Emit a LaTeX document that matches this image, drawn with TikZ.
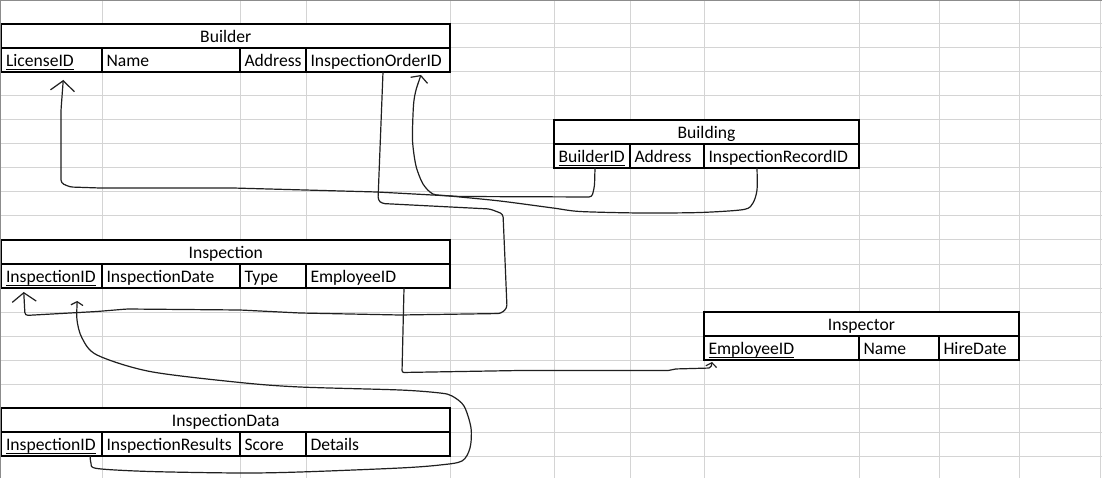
\documentclass[tikz,border=0pt]{standalone}
\usepackage{fontspec}
\setmainfont{Carlito}
\usetikzlibrary{arrows.meta,calc}

\tikzset{
  gridline/.style={draw=black!17, line width=1pt},
  frameline/.style={draw=black!45, line width=1.3pt},
  cellbox/.style={draw=black, fill=white, line width=1.1pt, minimum height=24pt, inner sep=0pt, outer sep=0pt},
  celltext/.style={inner sep=0pt, outer sep=0pt, text=black, font=\fontsize{17.6pt}{21pt}\selectfont},
  keyline/.style={draw=black, line width=0.9pt},
  conn/.style={draw=black!88, line width=1.2pt, line cap=round, line join=round},
}

\newcommand{\erfield}[5]{%
  \pgfmathsetmacro{\ertblw}{#3-#2}%
  \node[cellbox, minimum width=\ertblw pt, anchor=north west] (#1) at (#2,#4) {};
  \node[celltext, anchor=base west] (#1-t) at ($(#1.south west)+(4.5,-5.2)$) {#5};
}
\newcommand{\erkey}[5]{%
  \erfield{#1}{#2}{#3}{#4}{#5}%
  \draw[keyline] ($(#1-t.base west)+(0,3)$) -- ($(#1-t.base east)+(0,3)$);
}
\newcommand{\ertitle}[5]{%
  \pgfmathsetmacro{\ertblw}{#3-#2}%
  \node[cellbox, minimum width=\ertblw pt, anchor=north west] (#1) at (#2,#4) {};
  \node[celltext, anchor=base] (#1-t) at ($(#1.south)+(0,-5.8)$) {#5};
}

\begin{document}
\begin{tikzpicture}[x=1pt,y=-1pt]
\useasboundingbox (0,0) rectangle (1102,478);
\fill[white] (0,0) rectangle (1102,478);

% spreadsheet grid
\foreach \gx in {102,240,306,450,554,630,704,859,939,1019,1100}
  \draw[gridline] (\gx,0) -- (\gx,478);
\foreach \gy in {24,48,...,456}
  \draw[gridline] (0,\gy) -- (1102,\gy);
\draw[frameline] (0.65,0) -- (0.65,478);
\draw[frameline] (0,0.65) -- (1102,0.65);

% Builder
\ertitle{bT}{1.5}{450}{24}{Builder}
\erkey{bLicense}{1.5}{102}{48}{LicenseID}
\erfield{bName}{102}{240}{48}{Name}
\erfield{bAddr}{240}{306}{48}{Address}
\erfield{bInsOrd}{306}{450}{48}{InspectionOrderID}

% Building
\ertitle{gT}{554}{859}{120}{Building}
\erkey{gBuilderID}{554}{630}{144}{BuilderID}
\erfield{gAddr}{630}{704}{144}{Address}
\erfield{gInsRec}{704}{859}{144}{InspectionRecordID}

% Inspection
\ertitle{iT}{1.5}{450}{240}{Inspection}
\erkey{iInsID}{1.5}{102}{264}{InspectionID}
\erfield{iDate}{102}{240}{264}{InspectionDate}
\erfield{iType}{240}{306}{264}{Type}
\erfield{iEmp}{306}{450}{264}{EmployeeID}

% Inspector
\ertitle{pT}{704}{1019}{312}{Inspector}
\erkey{pEmp}{704}{859}{336}{EmployeeID}
\erfield{pName}{859}{939}{336}{Name}
\erfield{pHire}{939}{1019}{336}{HireDate}

% InspectionData
\ertitle{dT}{1.5}{450}{408}{InspectionData}
\erkey{dInsID}{1.5}{102}{432}{InspectionID}
\erfield{dRes}{102}{240}{432}{InspectionResults}
\erfield{dScore}{240}{306}{432}{Score}
\erfield{dDet}{306}{450}{432}{Details}

% connector end points
\coordinate (s1) at ($(gBuilderID.south)+(3,0)$);
\coordinate (t1) at ($(bLicense.south)+(11.5,8)$);
\coordinate (s2) at ($(gInsRec.south)+(-24.5,0)$);
\coordinate (t2) at ($(bInsOrd.south)+(43,3)$);
\coordinate (s3) at ($(bInsOrd.south)+(5,0)$);
\coordinate (t3) at ($(iInsID.south)+(-28,4)$);
\coordinate (s4) at ($(iEmp.south)+(26,0)$);
\coordinate (t4) at ($(pEmp.south)+(-69.5,2)$);
\coordinate (s5) at ($(dInsID.south)+(38.5,0)$);
\coordinate (t5) at ($(iInsID.south)+(25.5,13)$);

% BuilderID -> LicenseID
\draw[conn, rounded corners=3, -{Straight Barb[length=10pt,width=24pt]}]
  (s1) -- (594.5,186) -- (592,197) -- (460,196.5) -- (377,192) -- (233,188)
  -- (100,188) -- (70,187) -- (61,183) -- (61,110) -- (t1);

% InspectionRecordID -> InspectionOrderID
\draw[conn, -{Straight Barb[length=5pt,width=18pt]}]
  plot[smooth, tension=0.45] coordinates {(s2) (757,190) (753,203) (744,209.5)
  (700,212.5) (640,213) (580,211.5) (553,208) (500,201) (450,196) (433,194)
  (423,184) (416,166) (412.5,140) (413.5,105) (416,90) (t2)};

% InspectionOrderID -> Inspection.InspectionID
\draw[conn, rounded corners=3, -{Straight Barb[length=9pt,width=24pt]}]
  (s3) -- (378,200) -- (382,203.5) -- (490,209) -- (503,214) -- (505,260)
  -- (507,308) -- (501,313.5) -- (400,315) -- (300,313) -- (240,310)
  -- (127,309) -- (97,311.5) -- (25,315.5) -- (t3);

% Inspection.EmployeeID -> Inspector.EmployeeID
\draw[conn, rounded corners=2, -{Straight Barb[length=4pt,width=11pt]}]
  (s4) -- (402,372.5) -- (520,370.5) -- (670,370.5) -- (674,369) -- (711,368) -- (t4);

% InspectionData.InspectionID -> Inspection.InspectionID
\draw[conn, -{Straight Barb[length=3.5pt,width=12pt]}]
  plot[smooth, tension=0.5] coordinates {(s5) (91,463) (97,468.5) (150,471.5)
  (240,473) (300,472) (400,468) (440,465) (462,461) (470,448) (471,428)
  (464,406) (452,396) (440,393) (400,390) (300,387) (240,382.5) (150,371.5)
  (97,355) (82,338) (77,320) (t5)};

\end{tikzpicture}
\end{document}
